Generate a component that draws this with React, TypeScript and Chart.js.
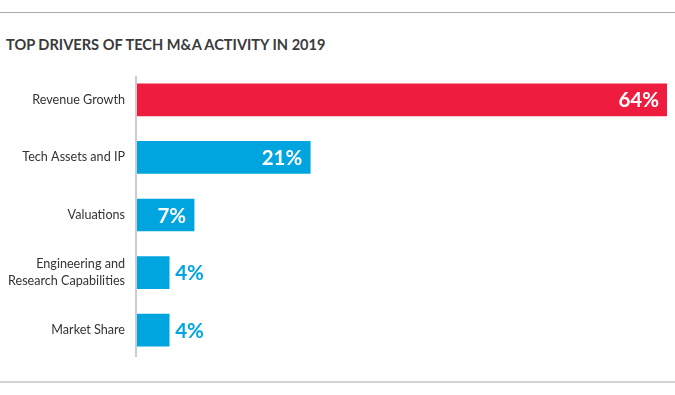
import React, { useEffect, useRef } from "react";
import { Chart, registerables } from "chart.js";

Chart.register(...registerables);

const categories: (string | string[])[] = [
  "Revenue Growth",
  "Tech Assets and IP",
  "Valuations",
  ["Engineering and", "Research Capabilities"],
  "Market Share",
];
const values: number[] = [64, 21, 7, 4, 4];
const barColors: string[] = ["#ee1c3e", "#00a5df", "#00a5df", "#00a5df", "#00a5df"];
const title = "TOP DRIVERS OF TECH M&A ACTIVITY IN 2019";

const FONT = "Lato, 'Open Sans', sans-serif";

export default function App() {
  const ref = useRef<HTMLCanvasElement | null>(null);

  useEffect(() => {
    if (!ref.current) return;
    const axisLine = {
      id: "axisLine",
      afterDatasetsDraw(chart: any) {
        const { ctx, chartArea } = chart;
        ctx.save();
        ctx.strokeStyle = "#cccccc";
        ctx.lineWidth = 2;
        ctx.beginPath();
        ctx.moveTo(chartArea.left, chartArea.top + 5);
        ctx.lineTo(chartArea.left, chartArea.bottom - 2);
        ctx.stroke();
        ctx.restore();
      },
    };
    const valueLabels = {
      id: "valueLabels",
      afterDatasetsDraw(chart: any) {
        const { ctx } = chart;
        const meta = chart.getDatasetMeta(0);
        ctx.save();
        ctx.font = `bold 20.5px ${FONT}`;
        ctx.textBaseline = "middle";
        meta.data.forEach((bar: any, i: number) => {
          const v = values[i];
          const txt = `${v}%`;
          if (v >= 7) {
            ctx.fillStyle = "#ffffff";
            ctx.textAlign = "right";
            ctx.fillText(txt, bar.x - 8, bar.y + 1);
          } else {
            ctx.fillStyle = "#00a5df";
            ctx.textAlign = "left";
            ctx.fillText(txt, bar.x + 6, bar.y + 1);
          }
        });
        ctx.restore();
      },
    };
    const chart = new Chart(ref.current, {
      type: "bar",
      data: {
        labels: categories,
        datasets: [
          {
            data: values,
            backgroundColor: barColors,
            barThickness: 32,
            borderWidth: 0,
          },
        ],
      },
      options: {
        indexAxis: "y",
        animation: false,
        responsive: false,
        maintainAspectRatio: false,
        layout: { padding: { top: 71, bottom: 36, right: 8, left: 0 } },
        plugins: {
          legend: { display: false },
          tooltip: { enabled: false },
          title: { display: false },
        },
        scales: {
          x: {
            display: false,
            min: 0,
            max: 64,
          },
          y: {
            grid: { display: false, drawTicks: false },
            border: { display: false },
            afterFit: (scale: any) => {
              scale.width = 136;
            },
            ticks: {
              padding: 11,
              color: "#333333",
              font: { family: FONT, size: 12.6, lineHeight: 1.35 },
            },
          },
        },
      },
      plugins: [axisLine, valueLabels],
    });
    return () => chart.destroy();
  }, []);

  return (
    <div
      style={{
        position: "fixed",
        left: 0,
        top: 0,
        width: 675,
        height: 395,
        background: "#ffffff",
        overflow: "hidden",
      }}
    >
      <div style={{ position: "absolute", left: 0, top: 12, width: 675, height: 1, background: "#a8a8a8" }} />
      <div
        style={{
          position: "absolute",
          left: 6,
          top: 36,
          fontFamily: FONT,
          fontWeight: 700,
          fontSize: 14.6,
          lineHeight: "18px",
          color: "#3a3a3a",
          whiteSpace: "nowrap",
        }}
      >
        {title}
      </div>
      <div style={{ position: "absolute", left: 0, top: 381, width: 675, height: 2, background: "#d4d4d4" }} />
      <canvas ref={ref} width={675} height={395} style={{ position: "absolute", left: 0, top: 0 }} />
    </div>
  );
}
